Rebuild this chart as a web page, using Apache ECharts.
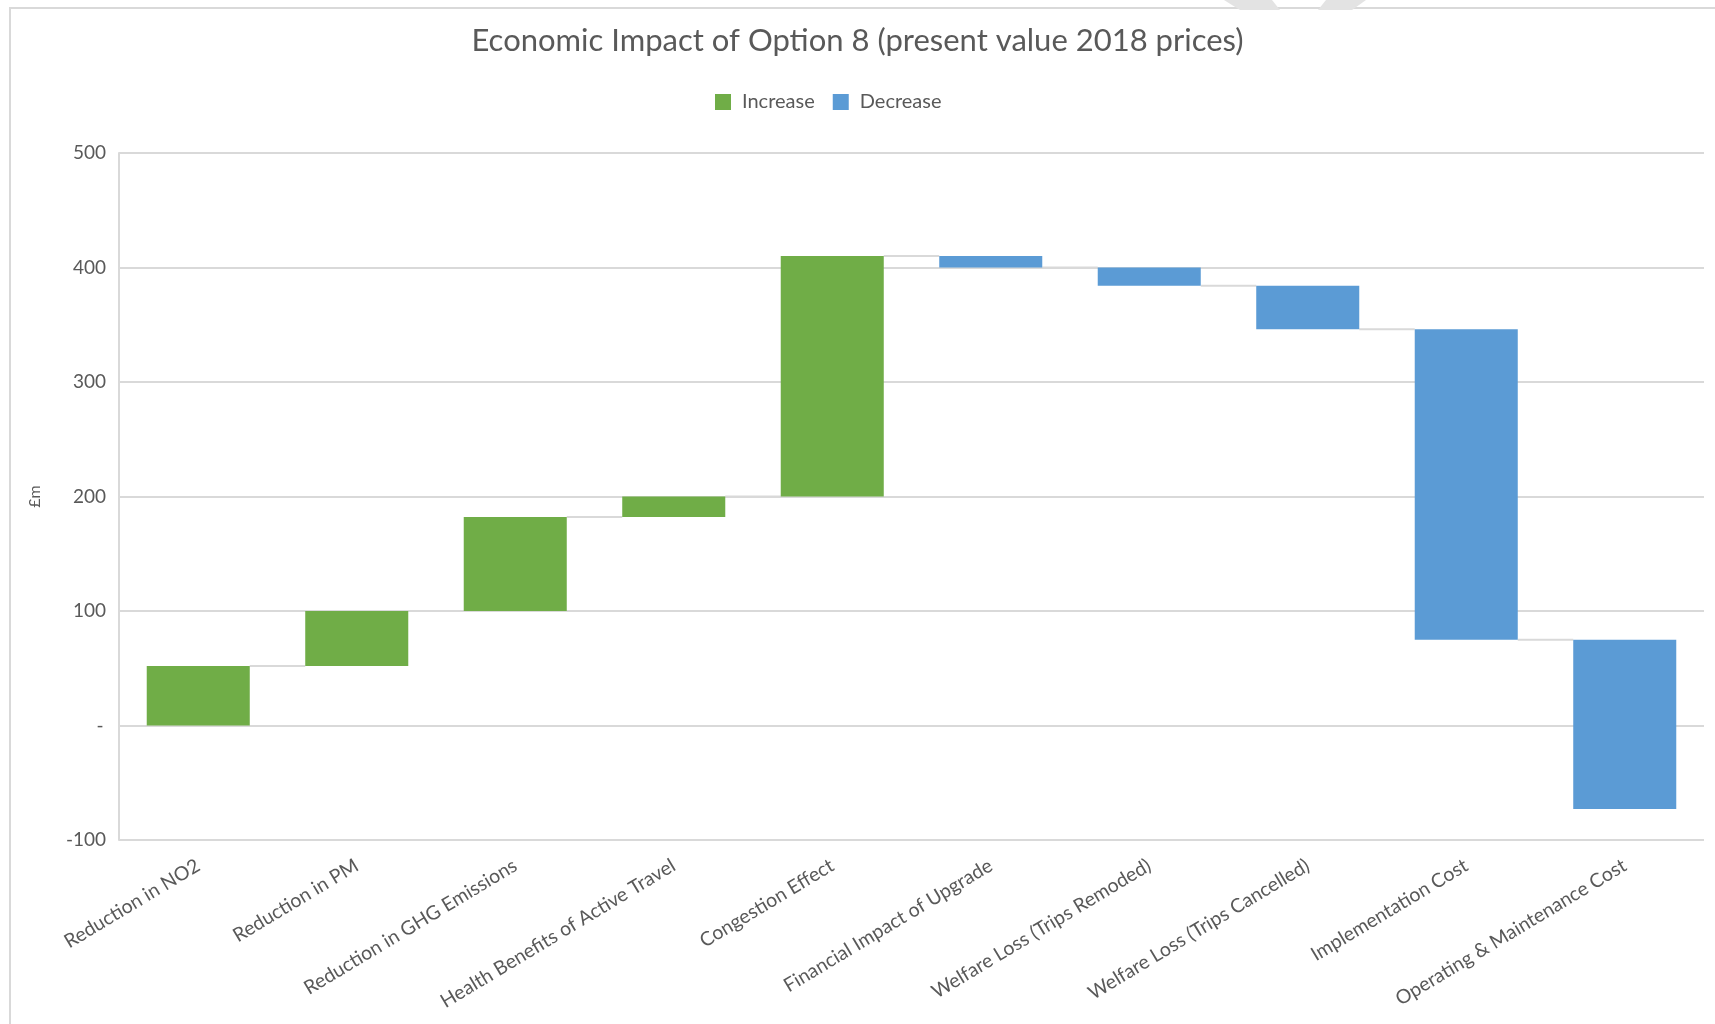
<!DOCTYPE html>
<html>
<head>
<meta charset="utf-8">
<script src="https://cdn.jsdelivr.net/npm/echarts@6/dist/echarts.min.js"></script>
<style>
  html, body { margin: 0; padding: 0; background: #ffffff; }
  #chart { width: 1715px; height: 1024px; }
</style>
</head>
<body>
<div id="chart"></div>
<script>
// Waterfall of the economic impact components (£m, present value 2018 prices)
const categories = [
  'Reduction in NO2',
  'Reduction in PM',
  'Reduction in GHG Emissions',
  'Health Benefits of Active Travel',
  'Congestion Effect',
  'Financial Impact of Upgrade',
  'Welfare Loss (Trips Remoded)',
  'Welfare Loss (Trips Cancelled)',
  'Implementation Cost',
  'Operating & Maintenance Cost'
];
const changes = [52, 48, 82, 18, 210, -10, -16, -38, -271, -148];
const yMin = -100;
const yMax = 500;
const yStep = 100;

// running totals: [categoryIndex, start, end]
let running = 0;
const steps = changes.map((d, i) => {
  const start = running;
  running += d;
  return [i, start, running];
});
const increaseData = steps.filter(s => s[2] >= s[1]);
const decreaseData = steps.filter(s => s[2] < s[1]);
const connectorData = steps.slice(0, -1).map(s => [s[0], s[2]]);

const BAR_RATIO = 0.65;
const TEXT = '#595959';
const GRID = '#d9d9d9';
const FONT = 'Lato, "Open Sans", sans-serif';

function renderFloatingBar(params, api) {
  const i = api.value(0);
  const a = api.coord([i, api.value(1)]);
  const b = api.coord([i, api.value(2)]);
  const w = api.size([1, 0])[0] * BAR_RATIO;
  return {
    type: 'rect',
    shape: { x: a[0] - w / 2, y: Math.min(a[1], b[1]), width: w, height: Math.abs(a[1] - b[1]) },
    style: { fill: api.visual('color') }
  };
}

function renderConnector(params, api) {
  const i = api.value(0);
  const level = api.value(1);
  const p1 = api.coord([i, level]);
  const p2 = api.coord([i + 1, level]);
  const w = api.size([1, 0])[0] * BAR_RATIO;
  return {
    type: 'line',
    shape: { x1: p1[0] + w / 2, y1: p1[1], x2: p2[0] - w / 2, y2: p2[1] },
    style: { stroke: GRID, lineWidth: 2 }
  };
}

const chart = echarts.init(document.getElementById('chart'), null, { renderer: 'canvas' });
chart.setOption({
  backgroundColor: '#ffffff',
  animation: false,
  title: {
    text: 'Economic Impact of Option 8 (present value 2018 prices)',
    left: 'center',
    top: 20,
    textStyle: { fontFamily: FONT, fontSize: 31, fontWeight: 'normal', color: TEXT }
  },
  legend: {
    data: ['Increase', 'Decrease'],
    left: 710,
    top: 87,
    icon: 'rect',
    itemWidth: 16,
    itemHeight: 16,
    itemGap: 18,
    textStyle: { fontFamily: FONT, fontSize: 20, color: TEXT, padding: [0, 0, 0, 6] }
  },
  graphic: [
    {
      type: 'rect',
      z: -10,
      shape: { x: 10, y: 8, width: 1800, height: 1100 },
      style: { fill: 'none', stroke: GRID, lineWidth: 2 }
    },
    {
      type: 'polygon',
      z: -5,
      shape: { points: [[1224, 0], [1272, 0], [1280, 10], [1240, 10]] },
      style: { fill: '#e3e3e3' }
    },
    {
      type: 'polygon',
      z: -5,
      shape: { points: [[1326, 0], [1366, 0], [1352, 10], [1318, 10]] },
      style: { fill: '#e3e3e3' }
    }
  ],
  grid: { left: 119, right: 11, top: 153, bottom: 184, containLabel: false },
  xAxis: {
    type: 'category',
    data: categories,
    axisLine: { show: false },
    axisTick: { show: false },
    splitLine: { show: false },
    axisLabel: {
      interval: 0,
      rotate: 31,
      margin: 24,
      fontFamily: FONT,
      fontSize: 19.5,
      color: TEXT
    }
  },
  yAxis: {
    type: 'value',
    min: yMin,
    max: yMax,
    interval: yStep,
    name: '£m',
    nameLocation: 'middle',
    nameRotate: 90,
    nameGap: 76,
    nameTextStyle: { fontFamily: FONT, fontSize: 16, color: TEXT },
    axisLine: { show: true, lineStyle: { color: GRID, width: 2 } },
    axisTick: { show: false },
    splitLine: { show: true, lineStyle: { color: GRID, width: 2 } },
    axisLabel: {
      margin: 13,
      fontFamily: FONT,
      fontSize: 19,
      color: TEXT,
      formatter: v => (v === 0 ? '-\u2009' : String(v))
    }
  },
  series: [
    {
      name: 'connectors',
      type: 'custom',
      z: 1,
      silent: true,
      renderItem: renderConnector,
      encode: { x: 0, y: 1 },
      data: connectorData
    },
    {
      name: 'Increase',
      type: 'custom',
      z: 2,
      itemStyle: { color: '#70ad47' },
      renderItem: renderFloatingBar,
      encode: { x: 0, y: [1, 2] },
      data: increaseData
    },
    {
      name: 'Decrease',
      type: 'custom',
      z: 2,
      itemStyle: { color: '#5b9bd5' },
      renderItem: renderFloatingBar,
      encode: { x: 0, y: [1, 2] },
      data: decreaseData
    }
  ]
});
</script>
</body>
</html>
